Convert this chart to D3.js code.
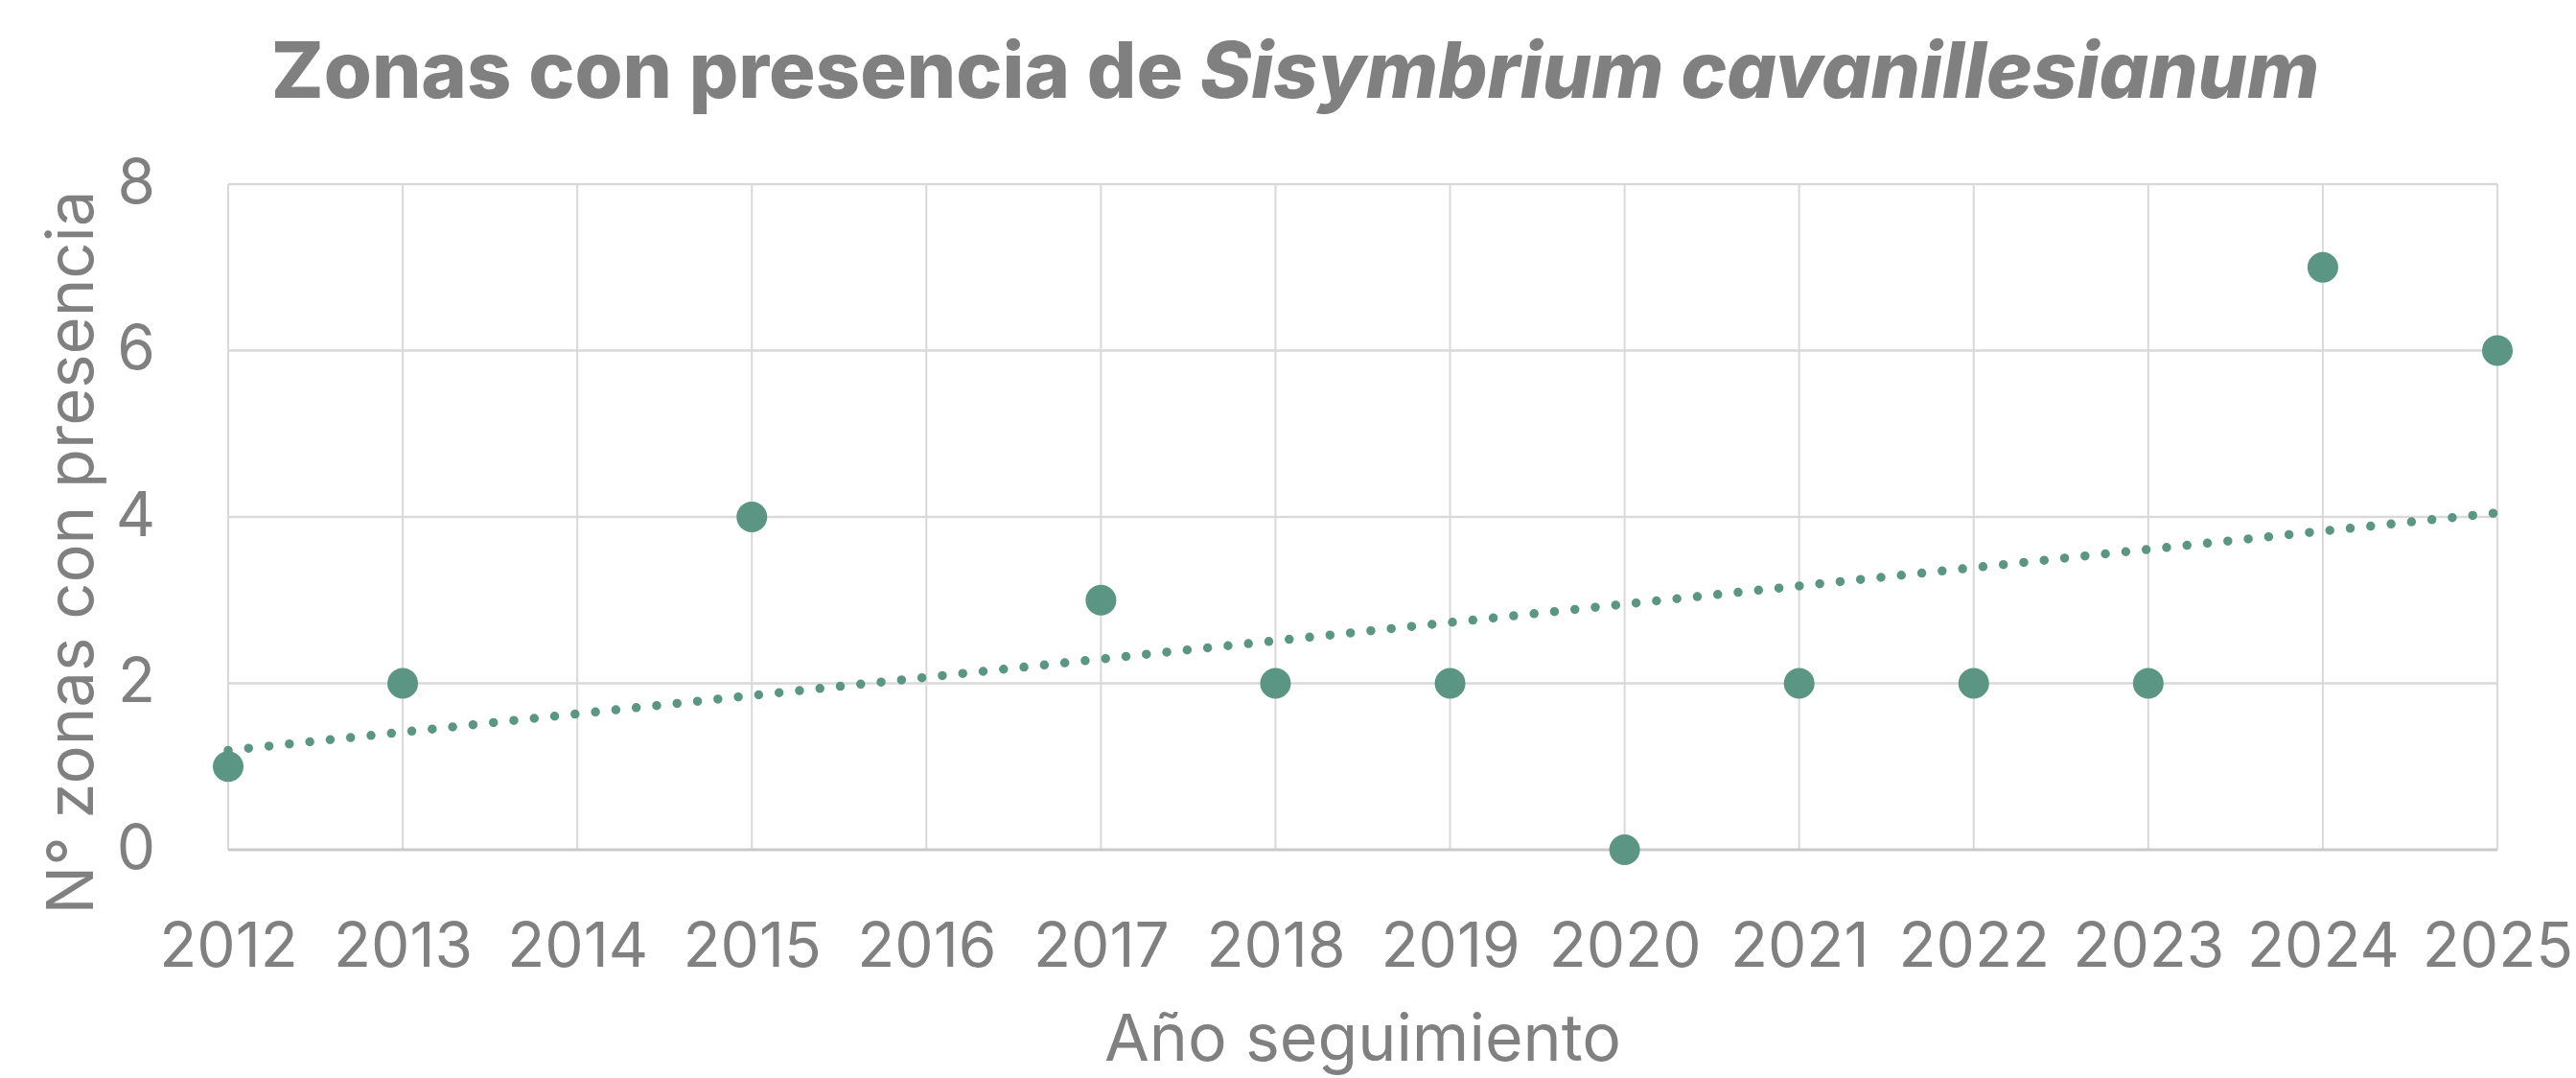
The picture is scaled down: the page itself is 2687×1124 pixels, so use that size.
<!DOCTYPE html>
<html>
<head>
<meta charset="utf-8">
<script src="https://cdn.jsdelivr.net/npm/d3@7"></script>
<style>
  body { margin: 0; background: #fff; }
  svg text { font-family: Inter, "Open Sans", sans-serif; fill: #808080; }
</style>
</head>
<body>
<svg></svg>
<script>
var width = 2687;
var height = 1124;

// años con muestreo y nº de zonas con presencia
var years = [2012, 2013, 2015, 2017, 2018, 2019, 2020, 2021, 2022, 2023, 2024, 2025];
var zonas = [1, 2, 4, 3, 2, 2, 0, 2, 2, 2, 7, 6];
var xTicks = [2012, 2013, 2014, 2015, 2016, 2017, 2018, 2019, 2020, 2021, 2022, 2023, 2024, 2025];
var yTicks = [0, 2, 4, 6, 8];

var margin = {left: 238, right: 82, top: 192, bottom: 238};
var green = "#5b9684";
var grid = "#d9d9d9";

var svg = d3.select("svg")
  .attr("width", width)
  .attr("height", height);

var x = d3.scaleLinear()
  .domain([2012, 2025])
  .range([margin.left, width - margin.right]);

var y = d3.scaleLinear()
  .domain([0, 8])
  .range([height - margin.bottom, margin.top]);

// rejilla
svg.append("g")
  .selectAll("line.v")
  .data(xTicks)
  .enter()
  .append("line")
  .attr("x1", function(d){ return x(d); })
  .attr("x2", function(d){ return x(d); })
  .attr("y1", y(0))
  .attr("y2", y(8))
  .attr("stroke", grid)
  .attr("stroke-width", 2);

svg.append("g")
  .selectAll("line.h")
  .data(yTicks)
  .enter()
  .append("line")
  .attr("x1", x(2012))
  .attr("x2", x(2025))
  .attr("y1", function(d){ return y(d); })
  .attr("y2", function(d){ return y(d); })
  .attr("stroke", function(d){ return d == 0 ? "#c9c9c9" : grid; })
  .attr("stroke-width", function(d){ return d == 0 ? 3 : 2.5; });

// etiquetas de ejes
var xAxis = d3.axisBottom(x).tickValues(xTicks).tickFormat(d3.format("d")).tickSize(0).tickPadding(77);
svg.append("g")
  .attr("transform", "translate(0," + y(0) + ")")
  .call(xAxis)
  .call(function(g){ g.select(".domain").remove(); })
  .selectAll("text")
  .style("font-size", "64px")
  .attr("fill", "#808080");

var yAxis = d3.axisLeft(y).tickValues(yTicks).tickSize(0).tickPadding(76);
svg.append("g")
  .attr("transform", "translate(" + x(2012) + ",0)")
  .call(yAxis)
  .call(function(g){ g.select(".domain").remove(); })
  .selectAll("text")
  .style("font-size", "64px")
  .attr("dy", "0.3em")
  .attr("fill", "#808080");

// linea de tendencia (regresion lineal)
var mx = d3.mean(years), my = d3.mean(zonas);
var sxy = d3.sum(years, function(d, i){ return (d - mx) * (zonas[i] - my); });
var sxx = d3.sum(years, function(d){ return (d - mx) * (d - mx); });
var slope = sxy / sxx;
var inter = my - slope * mx;

svg.append("line")
  .attr("x1", x(2012))
  .attr("x2", x(2025))
  .attr("y1", y(inter + slope * 2012))
  .attr("y2", y(inter + slope * 2025))
  .attr("stroke", green)
  .attr("stroke-width", 9.5)
  .attr("stroke-linecap", "round")
  .attr("stroke-dasharray", "0 21.4");

// puntos
svg.append("g")
  .selectAll("circle")
  .data(years)
  .enter()
  .append("circle")
  .attr("cx", function(d){ return x(d); })
  .attr("cy", function(d, i){ return y(zonas[i]); })
  .attr("r", 16)
  .attr("fill", green);

// titulos
var title = svg.append("text")
  .attr("x", 1351)
  .attr("y", 102)
  .attr("text-anchor", "middle")
  .style("font-size", "81px")
  .style("font-weight", 800);
title.append("tspan").text("Zonas con presencia de ");
title.append("tspan").style("font-style", "italic").text("Sisymbrium cavanillesianum");

svg.append("text")
  .attr("x", (x(2012) + x(2025)) / 2)
  .attr("y", 1106)
  .attr("text-anchor", "middle")
  .style("font-size", "68px")
  .text("Año seguimiento");

svg.append("text")
  .attr("transform", "translate(97,576) rotate(-90)")
  .attr("text-anchor", "middle")
  .style("font-size", "67px")
  .text("N° zonas con presencia");
</script>
</body>
</html>
